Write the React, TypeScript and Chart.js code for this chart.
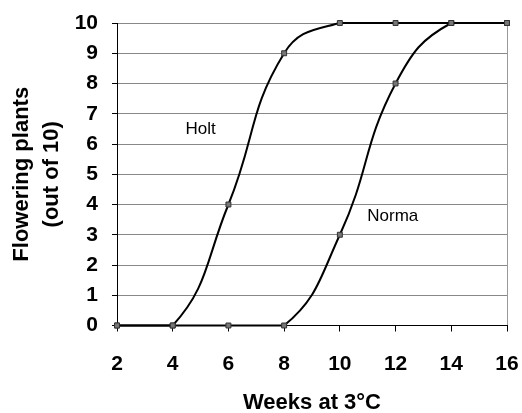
import React, { useEffect, useRef } from "react";
import { Chart, registerables } from "chart.js";

Chart.register(...registerables);

const weeks = [2, 4, 6, 8, 10, 12, 14, 16];
const holt = [0, 0, 4, 9, 10, 10, 10, 10];
const norma = [0, 0, 0, 0, 3, 8, 10, 10];
const yTicks = [0, 1, 2, 3, 4, 5, 6, 7, 8, 9, 10];
const labels = [
  { text: "Holt", x: 5.0, y: 6.5 },
  { text: "Norma", x: 11.9, y: 3.6 },
];

const FONT = "'Liberation Sans', Arial, sans-serif";

const labelPlugin = {
  id: "seriesLabels",
  afterDatasetsDraw(chart: any) {
    const { ctx, scales } = chart;
    ctx.save();
    ctx.font = `17px ${FONT}`;
    ctx.fillStyle = "#000";
    ctx.textAlign = "center";
    ctx.textBaseline = "middle";
    labels.forEach((l) => {
      ctx.fillText(l.text, scales.x.getPixelForValue(l.x), scales.y.getPixelForValue(l.y));
    });
    ctx.restore();
  },
};

export default function App() {
  const ref = useRef<HTMLCanvasElement>(null);
  useEffect(() => {
    document.body.style.margin = "0";
    const mk = (data: number[]) => data.map((v, i) => ({ x: weeks[i], y: v }));
    const ds = (label: string, data: number[]) => ({
      label,
      data: mk(data),
      borderColor: "#000",
      borderWidth: 2,
      tension: 0.45,
      pointStyle: "rect",
      pointRadius: 3.5,
      pointBackgroundColor: "#777",
      pointBorderColor: "#333",
      pointBorderWidth: 1,
      fill: false,
    });
    const chart = new Chart(ref.current!, {
      type: "line",
      data: { datasets: [ds("Holt", holt), ds("Norma", norma)] as any },
      options: {
        animation: false,
        responsive: false,
        clip: false as any,
        layout: { padding: { top: 23, right: 15, left: 0, bottom: 0 } },
        plugins: { legend: { display: false }, tooltip: { enabled: false } },
        scales: {
          x: {
            type: "linear",
            min: 2,
            max: 16,
            afterFit: (s: any) => {
              s.height = 87.5;
              s.paddingLeft = 0;
              s.paddingRight = 0;
            },
            ticks: {
              stepSize: 2,
              color: "#000",
              font: { family: FONT, size: 21, weight: "bold" },
              padding: 20,
            },
            grid: {
              color: (c: any) => (c.tick && c.tick.value === 16 ? "#999" : "rgba(0,0,0,0)"),
              tickColor: "#000",
              tickLength: 6,
              lineWidth: 1,
            },
            border: { color: "#000", width: 1 },
            title: {
              display: true,
              text: "Weeks at 3°C",
              color: "#000",
              font: { family: FONT, size: 22, weight: "bold", lineHeight: 1.2 },
              padding: { top: 0, bottom: -3 },
            },
          },
          y: {
            min: 0,
            max: 10,
            afterFit: (s: any) => {
              s.width = 117;
              s.paddingTop = 0;
              s.paddingBottom = 0;
            },
            afterBuildTicks: (s: any) => {
              s.ticks = yTicks.map((v) => ({ value: v }));
            },
            ticks: {
              color: "#000",
              font: { family: FONT, size: 21, weight: "bold" },
              padding: 14,
            },
            grid: {
              color: "#888",
              tickColor: "#000",
              tickLength: 5,
              lineWidth: 1,
            },
            border: { color: "#000", width: 1 },
            title: {
              display: true,
              text: ["Flowering plants", "(out of 10)"],
              color: "#000",
              font: { family: FONT, size: 22, weight: "bold", lineHeight: 1.36 },
              padding: { top: 7, bottom: 0 },
            },
          },
        },
      },
      plugins: [labelPlugin],
    } as any);
    return () => chart.destroy();
  }, []);
  return (
    <div style={{ width: 522, height: 413, background: "#fff" }}>
      <canvas ref={ref} width={522} height={413} />
    </div>
  );
}
